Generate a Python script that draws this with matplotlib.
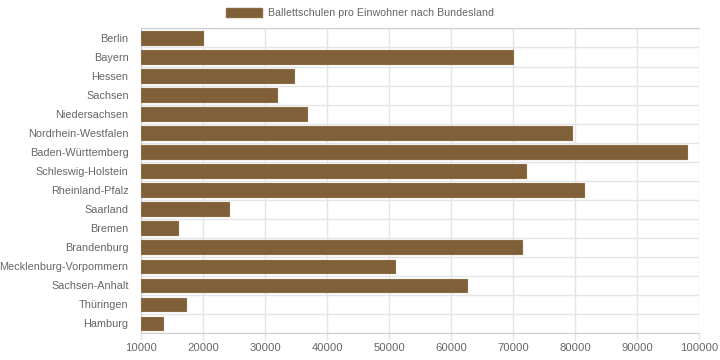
import matplotlib
matplotlib.use("Agg")
import matplotlib.pyplot as plt
from matplotlib.patches import Patch

plt.rcParams['font.family'] = ['Liberation Sans', 'DejaVu Sans']

categories = ["Berlin", "Bayern", "Hessen", "Sachsen", "Niedersachsen",
              "Nordrhein-Westfalen", "Baden-Württemberg", "Schleswig-Holstein",
              "Rheinland-Pfalz", "Saarland", "Bremen", "Brandenburg",
              "Mecklenburg-Vorpommern", "Sachsen-Anhalt", "Thüringen", "Hamburg"]
values = [19900, 70000, 34700, 31900, 36800, 79500, 98100, 72000,
          81500, 24200, 15900, 71500, 50900, 62500, 17300, 13600]
series_label = "Ballettschulen pro Einwohner nach Bundesland"
x_ticks = [10000, 20000, 30000, 40000, 50000, 60000, 70000, 80000, 90000, 100000]

bar_color = "#7f6039"
edge_color = "#8a6a42"
grid_color = "#e5e5e5"
text_color = "#666666"

fig = plt.figure(figsize=(7.2, 3.6), dpi=100)
ax = fig.add_axes([0.196, 0.075, 0.775, 0.846])

base = x_ticks[0]
n = len(categories)
ypos = list(range(n))
ax.barh(ypos, [v - base for v in values], left=base, height=0.72,
        color=bar_color, edgecolor=edge_color, linewidth=0.8, zorder=3)

ax.set_xlim(x_ticks[0], x_ticks[-1])
ax.set_ylim(n - 0.5, -0.5)
ax.set_xticks(x_ticks)
ax.set_xticklabels([str(t) for t in x_ticks])
ax.set_yticks(ypos)
ax.set_yticklabels(categories)

# gridlines
for t in x_ticks:
    ax.axvline(t, color=grid_color, linewidth=1, zorder=1)
for b in [i - 0.5 for i in range(n + 1)]:
    ax.axhline(b, color=grid_color, linewidth=1, zorder=1)

for s in ax.spines.values():
    s.set_visible(False)
ax.spines['left'].set_visible(True)
ax.spines['left'].set_color("#d0d0d0")
ax.spines['bottom'].set_visible(True)
ax.spines['bottom'].set_color("#d0d0d0")
ax.spines['top'].set_visible(True)
ax.spines['top'].set_color("#cfcfcf")

ax.tick_params(axis='x', colors=grid_color, labelcolor=text_color,
               labelsize=8.1, length=5, width=1, pad=2)
ax.tick_params(axis='y', colors=grid_color, labelcolor=text_color,
               labelsize=7.8, length=0, pad=9)

# legend at top
handle = Patch(facecolor=bar_color, edgecolor=edge_color, label=series_label)
fig.legend(handles=[handle], loc='upper center', bbox_to_anchor=(0.5, 1.005),
           frameon=False, fontsize=7.65, handlelength=3.4, handleheight=0.94,
           labelcolor=text_color, handletextpad=0.62)

fig.savefig("out.png", dpi=100)
